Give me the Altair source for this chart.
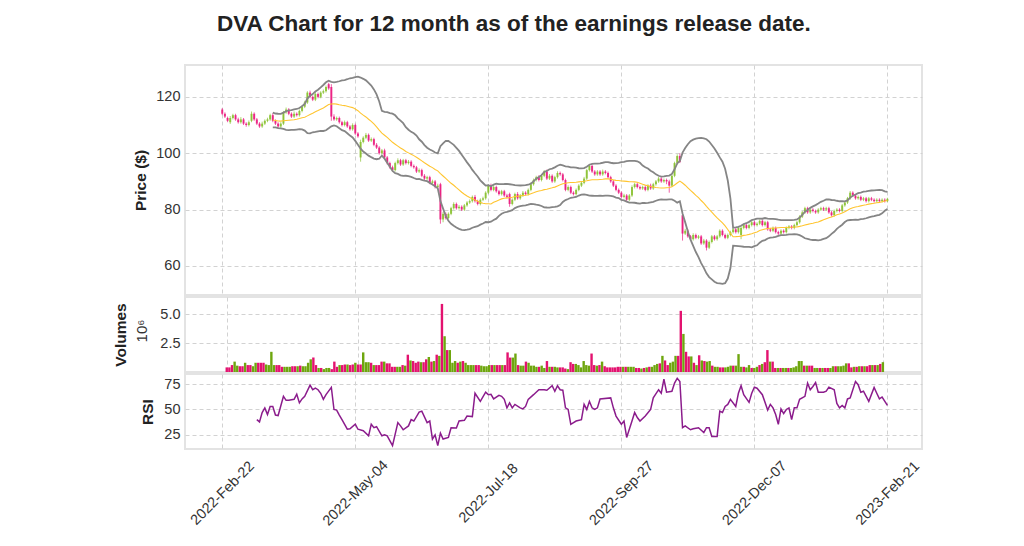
import altair as alt
import pandas as pd

# ---------------- data ----------------
days = list(range(251))

opens = [115.5,114.0,112.5,111.0,112.5,113.5,112.0,111.0,112.0,110.5,
 110.0,111.5,114.0,112.0,110.5,109.5,110.5,111.5,112.0,113.5,
 111.5,110.5,109.5,110.5,114.5,115.5,114.0,113.0,114.0,113.5,
 115.0,116.5,118.0,121.5,120.0,119.0,121.0,120.0,121.5,122.0,
 124.5,123.5,113.0,112.0,112.5,111.0,110.0,111.0,109.5,108.5,
 110.0,107.0,98.5,104.0,105.5,106.5,104.5,105.0,103.0,102.0,
 100.0,101.0,98.5,96.5,95.0,94.0,96.5,97.5,96.0,97.5,
 96.5,97.0,95.5,95.0,93.5,94.0,92.0,91.0,91.5,89.5,
 90.0,88.0,89.0,76.5,78.5,77.0,78.5,80.5,82.0,80.5,
 81.0,80.0,81.5,82.5,83.0,84.5,83.0,82.0,83.5,84.0,
 86.0,88.5,87.0,88.0,86.5,85.5,86.5,85.0,85.5,82.0,
 83.5,85.5,84.0,85.0,86.0,85.5,87.0,89.0,90.5,91.5,
 90.5,92.0,93.5,91.0,92.0,90.0,91.5,93.0,92.5,90.5,
 87.0,88.0,86.0,85.5,87.0,88.5,89.5,91.0,94.0,95.5,
 93.5,92.5,93.5,92.5,93.5,93.0,91.5,90.0,88.5,87.0,
 86.0,84.5,85.0,83.5,85.0,88.0,89.0,88.0,87.5,88.0,
 87.0,88.5,87.5,89.0,90.0,91.0,90.0,90.5,90.0,88.5,
 92.0,96.5,99.0,78.0,71.5,72.5,70.5,69.5,71.0,70.0,
 70.5,68.0,69.0,66.5,68.5,70.5,69.5,70.5,72.5,71.0,
 70.0,71.0,72.0,73.0,72.0,71.0,73.5,74.5,73.5,74.5,
 75.5,74.5,75.0,76.0,74.5,75.5,73.0,72.5,73.5,72.0,
 71.5,72.5,72.0,73.5,74.0,73.5,74.5,75.5,77.5,79.0,
 80.5,79.0,80.0,79.5,79.0,80.0,80.5,80.0,80.5,79.0,
 78.0,79.5,80.0,79.5,81.5,82.5,84.0,86.0,85.0,84.0,
 84.5,83.5,84.0,83.0,84.0,83.5,83.0,83.5,83.0,83.5,
 83.0]

closes = [114.0,113.0,111.5,112.5,113.5,112.0,111.0,112.0,110.5,110.0,
 111.0,114.0,112.0,110.5,109.5,110.5,111.5,112.0,113.5,111.5,
 110.5,109.5,110.5,114.5,115.5,114.0,113.0,114.0,113.5,115.0,
 116.5,118.0,121.5,120.0,119.0,121.0,120.0,121.5,122.0,123.5,
 123.0,113.0,112.0,112.5,111.0,110.0,111.0,109.5,108.5,110.0,
 107.0,106.0,104.0,105.5,106.5,104.5,105.0,103.0,102.0,100.0,
 101.0,98.5,96.5,95.0,94.0,96.5,97.5,96.0,97.5,96.5,
 97.0,95.5,95.0,93.5,94.0,92.0,91.0,91.5,89.5,90.0,
 88.0,88.5,76.5,78.5,77.0,78.5,80.5,82.0,80.5,81.0,
 80.0,81.5,82.5,83.0,84.5,83.0,82.0,83.5,84.0,86.0,
 88.5,87.0,88.0,86.5,85.5,86.5,85.0,84.5,82.0,83.5,
 85.5,84.0,85.0,86.0,85.5,87.0,89.0,90.5,91.5,90.5,
 92.0,93.5,91.0,92.0,90.0,91.5,93.0,92.5,90.5,87.0,
 88.0,86.0,85.5,87.0,88.5,89.5,91.0,94.0,95.5,93.5,
 92.5,93.5,92.5,93.5,93.0,91.5,90.0,88.5,87.0,86.0,
 84.5,85.0,83.5,85.0,88.0,89.0,88.0,87.5,88.0,87.0,
 88.5,87.5,89.0,90.0,91.0,90.0,90.5,90.0,88.5,92.0,
 96.5,99.0,97.0,71.5,72.5,70.5,69.5,71.0,70.0,70.5,
 68.0,69.0,66.5,68.5,70.5,69.5,70.5,72.5,71.0,70.0,
 71.0,72.0,73.0,72.0,73.5,73.5,74.5,73.5,74.5,75.5,
 74.5,75.0,76.0,74.5,75.5,73.0,72.5,73.5,72.0,71.5,
 72.5,72.0,73.5,74.0,73.5,74.5,75.5,77.5,79.0,80.5,
 79.0,80.0,79.5,79.0,80.0,80.5,80.0,80.5,79.0,78.0,
 79.5,80.0,79.5,81.5,82.5,84.0,86.0,85.0,84.0,84.5,
 83.5,84.0,83.0,84.0,83.5,83.0,83.5,83.0,83.5,83.0,
 83.8]

highs = [116.0,114.5,113.0,113.2,114.0,114.0,112.6,112.8,112.5,111.0,
 111.6,114.8,114.5,112.5,111.0,111.2,112.0,112.6,114.0,114.2,
 112.0,111.0,111.0,115.0,116.2,116.0,114.5,114.8,114.5,115.5,
 117.0,118.6,122.0,122.2,120.5,121.6,121.5,122.0,122.6,124.0,
 125.0,124.5,113.8,113.0,113.0,111.5,111.6,111.5,110.0,110.6,
 110.5,107.5,104.8,106.0,107.2,107.0,105.6,105.5,103.6,102.5,
 101.5,101.6,99.0,97.0,95.6,97.0,98.2,98.0,98.0,98.0,
 97.6,97.5,96.0,95.5,94.6,94.5,92.6,92.0,92.0,90.6,
 90.5,89.2,89.5,79.2,79.0,79.0,81.0,82.6,82.5,81.6,
 81.5,82.0,83.0,83.6,85.0,85.2,83.5,84.0,84.6,86.5,
 89.0,89.2,88.6,88.5,87.0,87.0,87.0,85.6,86.0,84.0,
 86.0,86.2,85.5,86.6,86.5,87.5,89.6,91.0,92.0,92.2,
 92.5,94.0,94.2,92.6,92.5,92.0,93.6,93.5,93.0,91.0,
 88.6,88.5,86.5,87.5,89.0,90.0,91.6,94.5,96.2,96.0,
 94.0,94.0,94.0,94.2,94.0,93.5,92.0,90.5,89.0,87.5,
 86.5,85.6,85.5,85.5,88.6,89.5,89.6,88.5,88.5,88.6,
 89.0,89.2,89.5,90.5,91.6,91.5,91.0,91.0,90.6,92.5,
 97.0,99.6,100.0,78.6,73.2,73.0,71.0,71.6,71.5,71.0,
 71.0,69.6,69.5,69.0,71.0,71.0,71.0,73.0,73.0,71.5,
 71.5,72.5,73.5,73.5,74.0,74.0,75.0,75.0,75.0,76.0,
 76.0,75.5,76.5,76.5,76.0,76.0,73.5,74.0,74.0,72.5,
 73.0,73.0,74.0,74.5,74.5,75.0,76.0,78.0,79.5,81.0,
 81.0,80.5,80.5,80.0,80.5,81.0,81.0,81.0,81.0,79.5,
 80.0,80.5,80.5,82.0,83.0,84.5,86.6,86.5,85.5,85.0,
 85.0,84.5,84.5,84.5,84.5,84.0,84.0,84.0,84.0,84.0,
 84.2]

lows = [113.5,112.5,111.0,110.4,112.0,111.5,110.5,110.5,110.0,109.4,
 109.5,111.0,111.5,110.0,109.0,109.0,110.0,111.0,111.5,111.0,
 110.0,109.0,109.0,110.0,114.0,113.5,112.5,112.5,113.0,113.0,
 114.5,116.0,117.5,119.5,118.5,118.5,119.5,119.5,121.0,121.5,
 122.5,111.5,111.5,111.5,110.5,109.5,109.5,109.0,108.0,108.0,
 106.5,105.5,97.0,103.5,105.0,104.0,104.0,102.5,101.5,99.5,
 99.5,98.0,96.0,94.5,93.5,93.5,96.0,95.5,95.5,96.0,
 96.0,95.0,94.5,93.0,93.0,91.5,90.5,90.5,89.0,89.0,
 87.5,87.5,75.0,75.5,76.5,76.5,78.0,80.0,80.0,80.0,
 79.5,79.5,81.0,82.0,82.5,82.5,81.5,81.5,83.0,83.5,
 85.5,86.5,86.5,86.0,85.0,85.0,84.5,84.0,81.0,81.5,
 83.0,83.5,83.5,84.5,85.0,85.0,86.5,88.5,90.0,90.0,
 90.0,91.5,90.5,90.5,89.5,89.5,91.0,92.0,90.0,86.5,
 86.5,85.5,85.0,85.0,86.5,88.0,89.0,90.5,93.5,93.0,
 92.0,92.0,92.0,92.0,92.5,91.0,89.5,88.0,86.5,85.5,
 84.0,84.0,83.0,83.0,84.5,87.5,87.5,87.0,87.0,86.5,
 86.5,87.0,87.0,88.5,89.5,89.5,89.5,89.0,86.0,88.0,
 91.5,96.0,96.5,69.0,71.0,70.0,69.0,69.0,69.5,69.5,
 67.5,67.5,65.5,66.0,68.0,69.0,69.0,70.0,70.5,69.5,
 69.5,70.5,71.5,71.5,71.5,69.5,73.0,73.0,73.0,74.0,
 74.0,74.0,74.5,74.0,74.0,72.5,72.0,72.0,71.5,71.0,
 71.0,71.5,71.5,73.0,73.0,73.0,74.0,75.0,77.0,78.5,
 78.5,78.5,79.0,78.5,78.5,79.5,79.5,79.5,78.5,77.5,
 77.5,79.0,79.0,79.0,81.0,82.0,83.5,84.5,83.5,83.5,
 83.0,83.0,82.5,82.5,83.0,82.5,82.5,82.5,82.5,82.5,
 82.6]

volumes = [0.40,0.40,0.60,0.90,0.55,0.50,0.50,0.80,0.60,0.60,
 0.50,0.80,0.80,0.80,0.80,0.65,0.60,1.75,0.60,0.60,
 0.60,0.45,0.45,0.45,0.45,0.50,0.50,0.50,0.55,0.50,
 0.50,0.80,1.10,1.25,0.60,0.35,0.35,0.25,0.35,0.35,
 0.25,0.90,0.45,0.60,0.60,0.65,0.65,0.60,0.65,0.80,
 0.65,0.65,1.70,0.85,0.85,0.80,0.60,0.60,0.60,0.90,
 0.90,0.75,0.75,0.45,0.45,0.45,0.45,0.60,0.55,1.50,
 1.00,0.95,0.80,0.90,0.85,0.85,1.10,1.30,0.90,0.95,
 1.50,1.40,5.90,3.10,1.90,1.90,0.80,0.95,0.80,0.90,
 0.95,0.80,0.60,0.60,0.60,0.60,0.60,0.55,0.50,0.50,
 0.60,0.60,0.60,0.60,0.60,0.60,0.60,1.70,1.25,1.25,
 1.60,0.60,0.55,0.55,0.90,0.80,0.55,0.55,0.45,0.45,
 0.55,0.35,0.95,0.45,0.45,0.45,0.40,0.40,0.40,0.30,
 0.25,0.85,0.70,0.70,0.60,0.40,0.95,0.60,0.55,1.60,
 0.60,0.55,0.60,0.90,0.50,0.40,0.40,0.40,0.40,0.45,
 0.45,0.45,0.45,0.45,0.45,0.45,0.35,0.35,0.30,0.35,
 0.40,0.45,0.45,0.60,0.70,0.75,1.40,1.00,0.60,0.80,
 0.90,1.40,1.40,5.30,3.30,1.75,1.35,1.35,0.80,0.60,
 1.45,1.00,0.95,0.90,0.95,0.55,0.45,0.45,0.40,0.40,
 0.40,0.45,0.55,0.55,0.55,1.55,0.45,0.45,0.40,0.60,
 0.35,0.35,0.45,0.60,0.70,0.85,1.90,0.90,0.90,0.35,
 0.35,0.35,0.35,0.35,0.35,0.35,0.40,0.50,0.95,0.95,
 0.55,0.55,0.55,0.55,0.35,0.35,0.35,0.35,0.35,0.35,
 0.35,0.50,0.50,0.50,0.50,0.55,0.75,0.75,0.40,0.45,
 0.45,0.50,0.50,0.50,0.50,0.60,0.60,0.60,0.60,0.70,
 0.85]

rsi_day = [13,14,15,16,17,18,19,20,21,23,24,25,27,28,29,30,31,33,34,35,
 36,37,38,39,41,42,43,44,45,47,48,50,51,53,55,56,57,58,60,61,
 62,64,66,67,68,70,71,72,74,75,77,78,79,80,81,82,83,85,86,88,
 89,91,92,94,95,97,99,100,101,102,104,105,106,107,108,109,110,112,113,114,
 115,117,119,121,122,124,125,126,127,128,129,130,131,133,135,136,137,138,139,140,
 141,142,146,147,148,150,151,152,154,155,156,157,159,161,162,164,165,166,167,169,
 170,171,172,173,174,176,177,179,181,182,183,184,186,187,188,189,190,191,193,194,
 195,196,198,199,200,201,203,205,206,207,208,209,210,211,212,213,214,215,216,217,
 219,220,221,222,223,224,226,227,228,230,231,232,233,234,235,236,238,239,240,241,
 243,245,246,247,248,250]

rsi_val = [40,37.7,47,51.6,45,53,53,44.5,44,63,59,59,60,65,56.5,60.4,63,74,69.5,71,
 69.5,66,60,64.6,71.8,50,49.4,44.5,40,30.5,31,35.4,30.5,29,24,35.4,32,33,24,25,
 24,14.3,37,33.8,30,33.8,40,38.6,47.4,48.4,37,38.6,20.8,25,14.3,26.6,20.8,22.4,32,31.8,
 38.6,39.3,43.5,43,66,58,67,64.6,65,60.4,64,63,60,51.6,56.5,51.6,55,51.6,50.6,53,
 60,64.6,69.5,69.5,69,73.4,68,73.4,69.5,69,51.6,50,35.4,38.6,40,55,50,58,51.6,50,
 51.6,60.4,61.4,51.6,43.5,35.4,38.6,22.4,38.6,47,42,38.6,43.5,50,61.4,69.5,66,80,67,68,
 76,80.8,77.6,32,33.8,30,31,32,27.3,32,32,23.4,23.4,48.4,47,53,55,60,53,66,
 73.4,64.6,57,66,72,71,64.6,49.4,55,51.6,45,35.4,50.6,46,50,51.6,40,51.6,51.6,60,
 63,76,69.5,72.7,76.6,67,67,68,72,69.5,56,51.6,54,51.6,60.4,61.4,77.6,74.4,67,68,
 58,71.8,66,60.4,62.3,54]

tick_days = [0, 50, 100, 150, 200, 250]
tick_labels = ["2022-Feb-22", "2022-May-04", "2022-Jul-18",
               "2022-Sep-27", "2022-Dec-07", "2023-Feb-21"]

assert len(opens) == len(closes) == len(highs) == len(lows) == len(volumes) == 251
assert len(rsi_day) == len(rsi_val)

# ---------------- chart ----------------
df = pd.DataFrame(dict(day=days, open=opens, close=closes,
                       high=highs, low=lows, vol=volumes))
rsi_df = pd.DataFrame(dict(day=rsi_day, rsi=rsi_val))

FONT = "Liberation Sans"
W = 737
xscale = alt.Scale(domain=[-14, 263], nice=False, zero=False)
label_expr = ("[" + ",".join("'%s'" % t for t in tick_labels) + "][indexof(["
              + ",".join(str(d) for d in tick_days) + "], datum.value)]")


def xenc(show=False):
    if show:
        ax = alt.Axis(values=tick_days, labelExpr=label_expr, labelAngle=315,
                      labelAlign="center", labelBaseline="middle",
                      labelPadding=44, title=None, grid=True, ticks=False,
                      domain=False, labelFontSize=14.5)
    else:
        ax = alt.Axis(values=tick_days, labels=False, ticks=False,
                      domain=False, title=None, grid=True)
    return alt.X("day:Q", scale=xscale, axis=ax)


price_scale = alt.Scale(domain=[49.7, 131.3], nice=False, zero=False)
price_axis = alt.Axis(values=[60, 80, 100, 120], title="Price ($)", titlePadding=7)


def yp(field):
    return alt.Y(field, scale=price_scale, axis=price_axis)


dir_expr = "datum.close >= datum.open ? 'up' : 'down'"
candle_color = alt.Color("dir:N", legend=None,
                         scale=alt.Scale(domain=["up", "down"],
                                         range=["#86bf2a", "#ea157b"]))

base = alt.Chart(df).transform_calculate(dir=dir_expr)
wick = base.mark_rule(strokeWidth=0.8, opacity=0.85).encode(
    x=xenc(), y=yp("low:Q"), y2="high:Q", color=candle_color)
body = base.mark_rule(strokeWidth=2.0, opacity=0.85).encode(
    x=xenc(), y=yp("open:Q"), y2="close:Q", color=candle_color)

bb = (alt.Chart(df)
      .transform_window(ma="mean(close)", sd="stdev(close)", frame=[-19, 0],
                        sort=[alt.SortField("day", order="ascending")])
      .transform_filter("datum.day >= 19")
      .transform_calculate(up="datum.ma + 2*datum.sd", lo="datum.ma - 2*datum.sd"))
upper = bb.mark_line(color="#858585", strokeWidth=1.8).encode(x=xenc(), y=yp("up:Q"))
lower = bb.mark_line(color="#858585", strokeWidth=1.8).encode(x=xenc(), y=yp("lo:Q"))
mline = bb.mark_line(color="#ffc530", strokeWidth=1.1).encode(x=xenc(), y=yp("ma:Q"))

price = alt.layer(wick, body, mline, upper, lower).properties(width=W, height=230)

vol_color = alt.Color("dir:N", legend=None,
                      scale=alt.Scale(domain=["up", "down"],
                                      range=["#6ea60e", "#e3126f"]))
vbars = base.mark_bar(size=2.4, orient="vertical").encode(
    x=xenc(),
    y=alt.Y("vol:Q", scale=alt.Scale(domain=[0, 6.5], nice=False),
            axis=alt.Axis(values=[2.5, 5.0], format=".1f", title="Volumes",
                          titlePadding=31)),
    color=vol_color)
exp_txt = alt.Chart(pd.DataFrame({"t": ["10⁶"]})).mark_text(
    angle=270, fontSize=15, font=FONT, color="#333333").encode(
    x=alt.value(-43), y=alt.value(34), text="t:N")
volume = alt.layer(vbars, exp_txt).properties(width=W, height=75)

rsi = alt.Chart(rsi_df).mark_line(color="#8b1c8c", strokeWidth=1.5).encode(
    x=xenc(True),
    y=alt.Y("rsi:Q", scale=alt.Scale(domain=[11, 85], nice=False, zero=False),
            axis=alt.Axis(values=[25, 50, 75], title="RSI", titlePadding=8))
).properties(width=W, height=75)

chart = (alt.vconcat(price, volume, rsi, spacing=0)
         .resolve_scale(color="independent")
         .properties(title=alt.TitleParams(
             "DVA Chart for 12 month as of the earnings release date.",
             anchor="middle", dx=-4, offset=29),
             padding={"left": 104, "top": 4, "right": 8, "bottom": 0})
         .configure_view(stroke="#e3e3e3", strokeWidth=2)
         .configure_axis(labelFont=FONT, titleFont=FONT, labelFontSize=14.5,
                         titleFontSize=15.5, titleFontWeight="bold",
                         labelColor="#333333", titleColor="#222222",
                         gridColor="#d2d2d2", gridDash=[4, 3], gridWidth=1,
                         domain=False, ticks=False, labelPadding=5)
         .configure_title(font=FONT, fontSize=22.5, fontWeight="bold",
                          color="#222222"))

chart.save("out.html", embed_options={"renderer": "svg", "actions": False})
